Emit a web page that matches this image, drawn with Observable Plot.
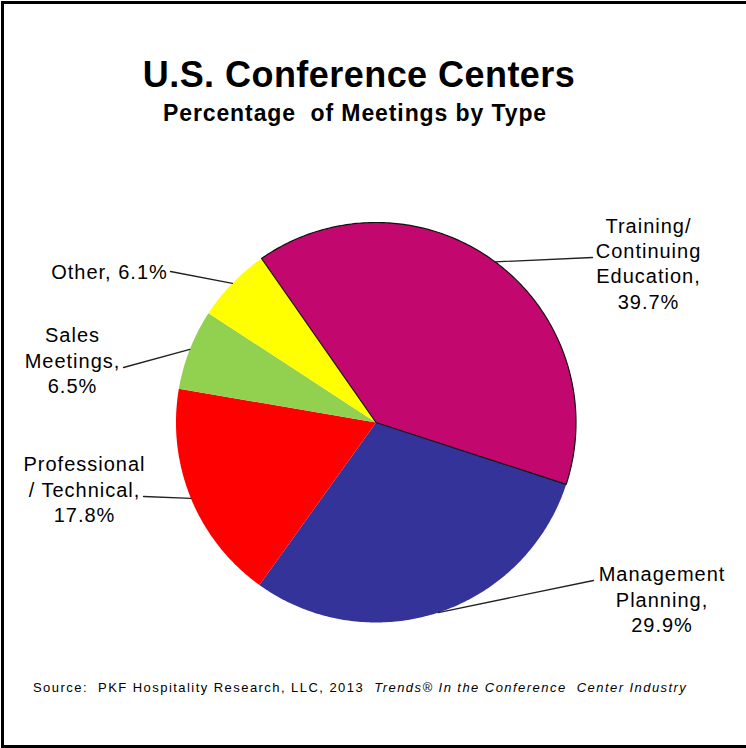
<!DOCTYPE html>
<html>
<head>
<meta charset="utf-8">
<script src="https://cdn.jsdelivr.net/npm/d3@7"></script>
<script src="https://cdn.jsdelivr.net/npm/@observablehq/plot@0.6"></script>
<style>
  html, body { margin: 0; padding: 0; background: #fff; overflow: hidden; width: 746px; height: 748px; }
  #frame { position: absolute; left: 1px; top: 1px; width: 800px; height: 741px; border: 3px solid #000; box-sizing: content-box; }
  .t { position: absolute; font-family: "Liberation Sans", Arial, sans-serif; white-space: pre; line-height: 1; color: #000; }
  #title { left: 59px; width: 600px; text-align: center; top: 57px; font-size: 36px; font-weight: bold; letter-spacing: 0.45px; }
  #subtitle { left: 55px; width: 600px; text-align: center; top: 102px; font-size: 23px; font-weight: bold; letter-spacing: 0.9px; }
  #caption { left: 33px; top: 681px; font-size: 13px; letter-spacing: 1.45px; }
  #chart { position: absolute; left: 0; top: 140px; }
  #chart svg text { letter-spacing: 1px; }
</style>
</head>
<body>
<div id="frame"></div>
<div class="t" id="title">U.S. Conference Centers</div>
<div class="t" id="subtitle">Percentage  of Meetings by Type</div>
<div class="t" id="caption">Source:  PKF Hospitality Research, LLC, 2013  <i>Trends® In the Conference  Center Industry</i></div>
<div id="chart"></div>
<script>
// ---- data ----
const categories = ["Training / Continuing Education", "Management Planning", "Professional / Technical", "Sales Meetings", "Other"];
const values = [39.7, 29.9, 17.8, 6.5, 6.1];
const labelTexts = ["Training/\nContinuing\nEducation,", "Management\nPlanning,", "Professional\n/ Technical,", "Sales\nMeetings,", "Other,"];
const labelSeparators = ["\n", "\n", "\n", "\n", " "];
const colors = ["#C2086F", "#333399", "#FF0000", "#92D050", "#FFFF00"];

// ---- layout (unit coordinates, pie radius = 1) ----
const startDeg = -34.9;
const labelPos = [[1.3625, 0.80], [1.43, -0.88], [-1.4575, -0.33], [-1.5175, 0.315], [-1.3325, 0.76]];
const leaderEnd = [[1.0825, 0.825], [1.0875, -0.79], [-1.1625, -0.37], [-1.2625, 0.275], [-1.0275, 0.755]];

const start = startDeg * Math.PI / 180;
const arcs = d3.pie().sort(null).startAngle(start).endAngle(start + 2 * Math.PI)(values);

const slicePts = [];
arcs.forEach((a, i) => {
  const cat = categories[i];
  slicePts.push({cat, x: 0, y: 0});
  const n = Math.max(4, Math.ceil((a.endAngle - a.startAngle) * 80));
  for (let k = 0; k <= n; k++) {
    const t = a.startAngle + (a.endAngle - a.startAngle) * k / n;
    slicePts.push({cat, x: Math.sin(t), y: Math.cos(t)});
  }
  slicePts.push({cat, x: 0, y: 0});
});

const labels = categories.map((c, i) => ({
  cat: c,
  text: labelTexts[i] + labelSeparators[i] + values[i].toFixed(1) + "%",
  x: labelPos[i][0], y: labelPos[i][1]
}));

const leaders = [];
arcs.forEach((a, i) => {
  const mid = (a.startAngle + a.endAngle) / 2;
  leaders.push({cat: categories[i], x: leaderEnd[i][0], y: leaderEnd[i][1]});
  leaders.push({cat: categories[i], x: Math.sin(mid), y: Math.cos(mid)});
});

const W = 746, H = 520;
const cx = 375.5, cy = 282, R = 200;

const chart = Plot.plot({
  width: W, height: H,
  margin: 0,
  x: {domain: [-cx / R, (W - cx) / R], axis: null},
  y: {domain: [-(H - cy) / R, cy / R], axis: null},
  color: {domain: categories, range: colors},
  style: {fontFamily: "'Liberation Sans', Arial, sans-serif", background: "transparent"},
  marks: [
    Plot.line(slicePts, {x: "x", y: "y", z: "cat", fill: "cat", stroke: "none", curve: "linear"}),
    Plot.line(slicePts.filter(d => d.cat === categories[0]), {x: "x", y: "y", fill: "none", stroke: "#111", strokeWidth: 1.2, curve: "linear"}),
    Plot.line(leaders, {x: "x", y: "y", z: "cat", stroke: "#222", strokeWidth: 1.3}),
    Plot.text(labels, {x: "x", y: "y", text: "text", fontSize: 20, lineHeight: 1.27, lineAnchor: "middle", textAnchor: "middle", fill: "#000"})
  ]
});
document.getElementById("chart").appendChild(chart);
</script>
</body>
</html>
